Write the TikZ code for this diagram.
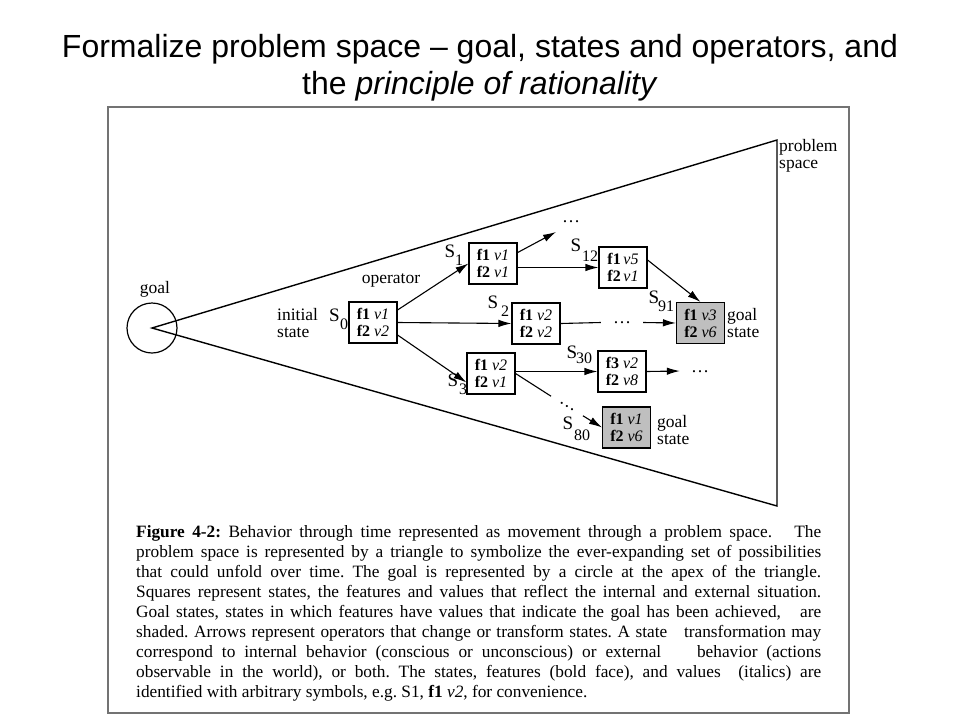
\documentclass[tikz,border=0pt]{standalone}
\usepackage{fontspec}
\setmainfont{Liberation Serif}
\newfontfamily\titlefont{Liberation Sans}
\usetikzlibrary{arrows.meta}
\frenchspacing
\begin{document}
\begin{tikzpicture}[x=1pt,y=-1pt,
 statebox/.style={draw, line width=1.1pt, minimum width=48pt, minimum height=41pt, inner sep=0pt, align=center, font=\fontsize{16}{17}\selectfont},
 goalbox/.style={statebox, fill=black!25},
 conn/.style={line width=1.1pt},
 arr/.style={conn, -{Latex[length=13pt,width=7.5pt]}},
 lab/.style={font=\fontsize{17.5}{16.5}\selectfont, inner sep=0pt, align=left},
 sS/.style={font=\fontsize{19}{19}\selectfont, inner sep=0pt},
 sN/.style={font=\fontsize{16}{16}\selectfont, inner sep=0pt},
 dotnode/.style={font=\fontsize{18}{18}\selectfont, inner sep=0pt, text height=2pt, text depth=0pt},
 frame/.style={draw=black!55, line width=2pt}
]
\useasboundingbox (0,0) rectangle (960,720);
\fill[white] (0,0) rectangle (960,720);

% title
\node[font=\titlefont\fontsize{32}{37}\selectfont, align=center, inner sep=0pt] (title) at (480,68)
 {Formalize problem space – goal, states and operators, and\\the \textit{principle of rationality}};

% frame
\draw[frame] (108,107) rectangle (849,713);

% problem space triangle
\node[circle, draw, line width=1.2pt, minimum size=50pt, inner sep=0pt] (goal) at (152,328) {};
\coordinate (ptop) at (777,140);
\coordinate (pbot) at (777,506);
\draw[line width=1.4pt, line join=miter] (goal.center) -- (ptop) -- (pbot) -- cycle;

% labels
\node[lab] (goallab) at (155,289) {goal};
\node[lab, anchor=west] (ps) at (779,156) {problem\\space};
\node[lab, anchor=west] (init) at (277,323) {initial\\state};
\node[lab] (op) at (391,280) {operator};

% states
\node[statebox] (s0) at (373,322.5) {\textbf{f1} \textit{v1}\\\textbf{f2} \textit{v2}};
\node[statebox] (s1) at (493,263.5) {\textbf{f1} \textit{v1}\\\textbf{f2} \textit{v1}};
\node[statebox] (s2) at (536,323.5) {\textbf{f1} \textit{v2}\\\textbf{f2} \textit{v2}};
\node[statebox] (s3) at (491,373.5) {\textbf{f1} \textit{v2}\\\textbf{f2} \textit{v1}};
\node[statebox] (s12) at (623,267.5) {\textbf{f1}\,\textit{v5}\\\textbf{f2}\,\textit{v1}};
\node[goalbox] (s91) at (700.5,323) {\textbf{f1} \textit{v3}\\\textbf{f2} \textit{v6}};
\node[statebox] (s30) at (622,371.5) {\textbf{f3} \textit{v2}\\\textbf{f2} \textit{v8}};
\node[goalbox] (s80) at (626.5,427.5) {\textbf{f1} \textit{v1}\\\textbf{f2} \textit{v6}};

\node[lab, anchor=west] (gs1) at (727,323) {goal\\state};
\node[lab, anchor=west] (gs2) at (657,430) {goal\\state};

% state names
\node[sS] (n0S) at (334.5,315) {S}; \node[sN] (n0N) at (344,324) {0};
\node[sS] (n1S) at (450,251) {S}; \node[sN] (n1N) at (459,260) {1};
\node[sS] (n2S) at (493,302) {S}; \node[sN] (n2N) at (505,311) {2};
\node[sS] (n3S) at (453,380) {S}; \node[sN] (n3N) at (463,389) {3};
\node[sS] (n12S) at (576,245) {S}; \node[sN] (n12N) at (590,256) {12};
\node[sS] (n91S) at (654,297) {S}; \node[sN] (n91N) at (666,306) {91};
\node[sS] (n30S) at (572,352) {S}; \node[sN] (n30N) at (584,358) {30};
\node[sS] (n80S) at (568,423) {S}; \node[sN] (n80N) at (582,435) {80};

% dots
\node[dotnode] (dA) at (571,221) {…};
\coordinate (dAend) at (556,232);
\node[dotnode, minimum width=42pt] (dB) at (622,322.5) {…};
\node[dotnode, minimum width=40pt] (dC) at (700,371) {…};
\node[dotnode, minimum width=37pt, rotate=-31.5] (dD) at (567,406) {…};

% operators
\draw[arr] (s0.27) -- (s1.west);
\draw[arr] (s0.east) -- (s2.west);
\draw[arr] (s0.-27) -- (s3.200);
\draw[arr] (s1.24) -- (dAend);
\draw[arr] (s1.east |- s12.west) -- (s12.west);
\draw[arr] (s12.17) -- (s91.north);
\draw[conn] (s2.east) -- (dB.west);
\draw[arr] (dB.east) -- (s91.west);
\draw[arr] (s3.east |- s30.west) -- (s30.west);
\draw[arr] (s30.east) -- (dC.west);
\draw[conn] (s3.east) -- (dD.west);
\draw[arr] (dD.east) -- (s80.west);

% caption
\node[anchor=base west, inner sep=0pt] (cap) at (136,537) {\parbox[t]{685pt}{\fontsize{17.3}{20}\selectfont
\makebox[685pt][s]{\textbf{Figure 4-2:} Behavior through time represented as movement through a problem space.\ \ \ The}\\
\makebox[685pt][s]{problem space is represented by a triangle to symbolize the ever-expanding set of possibilities}\\
\makebox[685pt][s]{that could unfold over time. The goal is represented by a circle at the apex of the triangle.}\\
\makebox[685pt][s]{Squares represent states, the features and values that reflect the internal and external situation.}\\
\makebox[685pt][s]{Goal states, states in which features have values that indicate the goal has been achieved,\ \ \ are}\\
\makebox[685pt][s]{shaded. Arrows represent operators that change or transform states. A state\ \ \ transformation may}\\
\makebox[685pt][s]{correspond to internal behavior (conscious or unconscious) or external\ \ \ \ behavior (actions}\\
\makebox[685pt][s]{observable in the world), or both. The states, features (bold face), and values\ \ (italics) are}\\
identified with arbitrary symbols, e.g. S1, \textbf{f1} \textit{v2}, for convenience.}};
\end{tikzpicture}
\end{document}
